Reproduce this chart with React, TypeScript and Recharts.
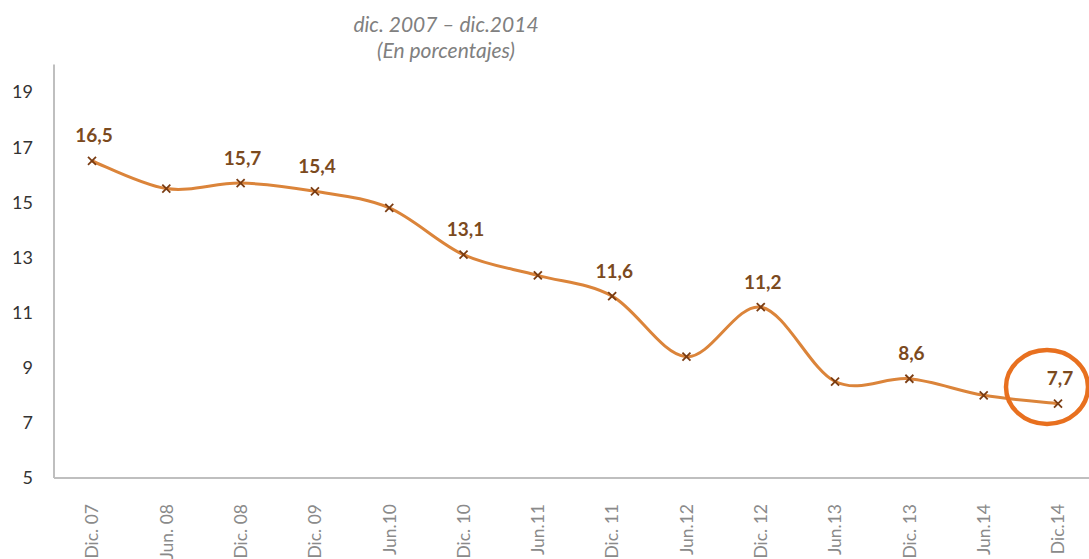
import React from "react";
import { LineChart, Line, XAxis, YAxis, LabelList, ReferenceDot } from "recharts";

const categories = [
  "Dic. 07", "Jun. 08", "Dic. 08", "Dic. 09", "Jun.10", "Dic. 10", "Jun.11",
  "Dic. 11", "Jun.12", "Dic. 12", "Jun.13", "Dic. 13", "Jun.14", "Dic.14",
];
const values = [16.5, 15.5, 15.7, 15.4, 14.8, 13.1, 12.35, 11.6, 9.4, 11.2, 8.5, 8.6, 8.0, 7.7];
const pointLabels = ["16,5", "", "15,7", "15,4", "", "13,1", "", "11,6", "", "11,2", "", "8,6", "", "7,7"];
const yTicks = [5, 7, 9, 11, 13, 15, 17, 19];
const titleLines = ["dic. 2007 \u2013 dic.2014", "(En porcentajes)"];
const highlight = { x: "Dic.14", y: 8.3 };

const data = categories.map((c, i) => ({ cat: c, v: values[i], label: pointLabels[i] }));

const FONT = "Lato, 'Open Sans', sans-serif";

// Excel-like smoothing (Catmull-Rom as cubic Bezier)
const excelCurve = (context: any) => {
  let pts: number[][] = [];
  return {
    areaStart() {},
    areaEnd() {},
    lineStart() {
      pts = [];
    },
    point(x: number, y: number) {
      pts.push([+x, +y]);
    },
    lineEnd() {
      const n = pts.length;
      if (!n) return;
      context.moveTo(pts[0][0], pts[0][1]);
      for (let i = 0; i < n - 1; i++) {
        const p0 = pts[Math.max(i - 1, 0)];
        const p1 = pts[i];
        const p2 = pts[i + 1];
        const p3 = pts[Math.min(i + 2, n - 1)];
        context.bezierCurveTo(
          p1[0] + (p2[0] - p0[0]) / 6,
          p1[1] + (p2[1] - p0[1]) / 6,
          p2[0] - (p3[0] - p1[0]) / 6,
          p2[1] - (p3[1] - p1[1]) / 6,
          p2[0],
          p2[1]
        );
      }
    },
  };
};

const CrossDot = (props: any) => {
  const { cx, cy, index } = props;
  if (cx == null || cy == null) return null;
  const s = 4;
  return (
    <g key={`d${index}`}>
      <line x1={cx - s} y1={cy - s} x2={cx + s} y2={cy + s} stroke="#7a3c12" strokeWidth={1.8} />
      <line x1={cx - s} y1={cy + s} x2={cx + s} y2={cy - s} stroke="#7a3c12" strokeWidth={1.8} />
    </g>
  );
};

const PointLabel = (props: any) => {
  const { x, y, value } = props;
  if (!value) return null;
  return (
    <text
      x={x + 2}
      y={y - 26}
      textAnchor="middle"
      dominantBaseline="central"
      fontFamily={FONT}
      fontWeight={700}
      fontSize={19}
      fill="#7b4a1e"
    >
      {value}
    </text>
  );
};

const XTick = (props: any) => {
  const { x, y, payload } = props;
  return (
    <text
      transform={`translate(${x},${y + 18}) rotate(-90)`}
      textAnchor="end"
      dy="0.36em"
      fontFamily={FONT}
      fontSize={17.5}
      fill="#8a8a8a"
    >
      {payload.value}
    </text>
  );
};

const HighlightShape = (props: any) => {
  const { cx, cy } = props;
  return <ellipse cx={cx - 11} cy={cy} rx={41} ry={37} fill="none" stroke="#e8701f" strokeWidth={4.5} />;
};

export default function App() {
  return (
    <div style={{ position: "absolute", left: 0, top: 0, width: 1089, height: 559, background: "#fff" }}>
      <LineChart
        width={1089}
        height={559}
        data={data}
        margin={{ top: 64.5, right: 0, bottom: 0, left: 0 }}
      >
        <XAxis
          dataKey="cat"
          height={81}
          padding={{ left: 38, right: 31 }}
          tickLine={false}
          axisLine={{ stroke: "#bfbfbf", strokeWidth: 2 }}
          tick={<XTick />}
          interval={0}
        />
        <YAxis
          width={54}
          domain={[5, 20]}
          ticks={yTicks}
          tickLine={false}
          tickSize={0}
          tickMargin={21}
          axisLine={{ stroke: "#bfbfbf", strokeWidth: 2 }}
          tick={{ fontFamily: FONT, fontSize: 18, fill: "#333333" }}
          allowDataOverflow
        />
        <Line
          dataKey="v"
          type={excelCurve as any}
          stroke="#db843a"
          strokeWidth={3}
          dot={<CrossDot />}
          activeDot={false}
          isAnimationActive={false}
        >
          <LabelList dataKey="label" content={<PointLabel />} />
        </Line>
        <ReferenceDot x={highlight.x} y={highlight.y} r={40} shape={<HighlightShape />} ifOverflow="visible" />
      </LineChart>
      {titleLines.map((t, i) => (
        <div
          key={i}
          style={{
            position: "absolute",
            left: 246,
            width: 400,
            top: 11 + i * 26,
            textAlign: "center",
            fontFamily: FONT,
            fontStyle: "italic",
            fontSize: 21,
            lineHeight: "26px",
            color: "#808080",
          }}
        >
          {t}
        </div>
      ))}
    </div>
  );
}
